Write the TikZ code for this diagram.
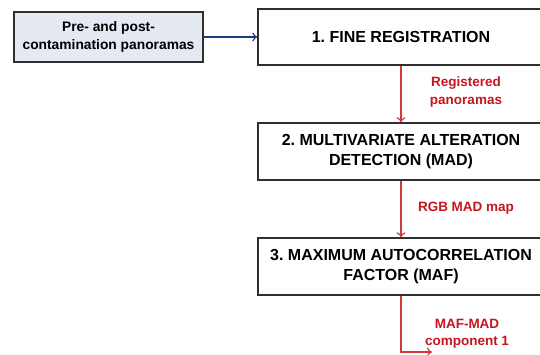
\documentclass[tikz,border=0pt]{standalone}
\usepackage{fontspec}
\setmainfont{Liberation Sans}
\usetikzlibrary{arrows.meta}
\definecolor{boxfill}{HTML}{E4E9F2}
\definecolor{boxline}{HTML}{303030}
\definecolor{navy}{HTML}{1F3A80}
\definecolor{lblred}{HTML}{C8141E}
\definecolor{arrred}{HTML}{D03A3A}
\frenchspacing
\begin{document}
\begin{tikzpicture}[x=1pt,y=-1pt,
  inbox/.style={draw=boxline,line width=1.3pt,fill=boxfill,minimum width=189pt,minimum height=50pt,inner sep=0pt,align=center,font=\fontsize{13.8}{18}\selectfont\bfseries},
  stepbox/.style={draw=boxline,line width=1.3pt,fill=white,minimum width=286pt,minimum height=56pt,inner sep=0pt,align=center,font=\fontsize{16}{20}\selectfont\bfseries},
  lbl/.style={text=lblred,align=center,inner sep=0pt,font=\fontsize{13.5}{17.5}\selectfont\bfseries},
  bluearr/.style={draw=navy,line width=1.2pt,-{To[length=5pt,width=9pt]}},
  redarr/.style={draw=arrred,line width=1.2pt,-{To[length=5pt,width=9pt]}}]
\useasboundingbox (0,0) rectangle (540,355);
\begin{scope}
\clip (0,0) rectangle (540,355);
\node[inbox] (in) at (108.5,37) {Pre- and post-\\contamination panoramas};
\node[stepbox] (s1) at (401,37) {1. FINE REGISTRATION};
\node[stepbox,minimum height=57pt] (s2) at (401,151.5) {2. MULTIVARIATE ALTERATION\\DETECTION (MAD)};
\node[stepbox,minimum height=57pt] (s3) at (401,266.5) {3. MAXIMUM AUTOCORRELATION\\FACTOR (MAF)};
\draw[bluearr] (in.east) -- (s1.west);
\draw[redarr] (s1.south) -- (s2.north);
\draw[redarr] (s2.south) -- (s3.north);
\coordinate (e) at (432,352);
\draw[redarr] (s3.south) |- (e);
\node[lbl] (l1) at (466,92) {Registered\\panoramas};
\node[lbl] (l2) at (466,208) {RGB MAD map};
\node[lbl] (l3) at (467,334) {MAF-MAD\\component 1};
\end{scope}
\end{tikzpicture}
\end{document}
